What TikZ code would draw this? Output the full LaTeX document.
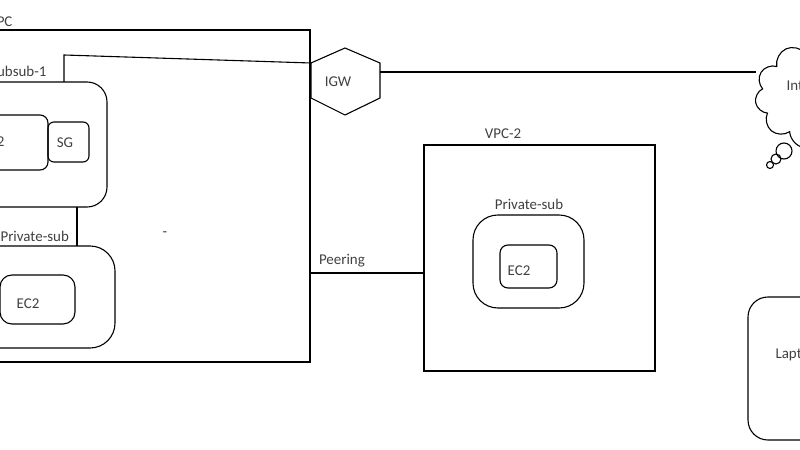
\documentclass[tikz,border=0pt]{standalone}
\usepackage{fontspec}
\setmainfont{Carlito}
\usetikzlibrary{shapes.symbols}

\begin{document}
\begin{tikzpicture}[x=1bp,y=-1bp,line width=1.1pt,
	lbl/.style={font=\fontsize{15}{17}\selectfont,text=black!75,inner sep=0pt},
	box/.style={draw,rounded corners=#1},
	box/.default=0pt]
		\useasboundingbox (0,0) rectangle (800,450);
		\clip (0,0) rectangle (800,450);
		
		%VPC
		\draw (-60,30) rectangle (310,362);
		\node[lbl,anchor=east] (vpc) at (13,22) {VPC};
		
		%public subnet
		\draw[box=20pt] (-60,82) rectangle (107,207);
		\node[lbl,anchor=east] (pub) at (47,71) {Pubsub-1};
		\draw[box=8pt] (-40,115) rectangle (48,170);
		\node[lbl,anchor=east] (ec2a) at (5,142) {EC2};
		\draw[box=6pt] (48,122) rectangle (89,162);
		\node[lbl] (sg) at (65,143) {SG};
		
		%private subnet
		\draw[box=25pt] (-60,246) rectangle (115,348);
		\node[lbl,anchor=west] (priv) at (0,236) {Private-sub};
		\draw[box=12pt] (0,275) rectangle (75,324);
		\node[lbl] (ec2b) at (28,304) {EC2};
		\draw (77,207) -- (77,246);
		\node[lbl] (dot) at (165,234) {-};
		
		%IGW
		\coordinate (g1) at (311,63);
		\coordinate (g2) at (380,72);
		\draw (g1) -- (345,48) -- (380,63) -- (380,98) -- (345,115) -- (311,98) -- cycle;
		\node[lbl] (igw) at (338,82) {IGW};
		\draw (64,82) -- (64,55) -- (g1);
		
		%VPC-2
		\draw (424,145) rectangle (655,371);
		\node[lbl] (vpc2) at (503,134) {VPC-2};
		\draw[box=25pt] (473,215) rectangle (584,308);
		\node[lbl] (priv2) at (529,204) {Private-sub};
		\draw[box=8pt] (500,245) rectangle (557,288);
		\node[lbl] (ec2c) at (519,271) {EC2};
		
		%peering
		\coordinate (p1) at (310,273);
		\coordinate (p2) at (424,273);
		\draw (p1) -- (p2) node[lbl,pos=0.28,above=5pt] (peer) {Peering};
		
		%internet
		\node[cloud,draw,cloud puffs=11,aspect=1.1,minimum width=135,minimum height=110,anchor=west] (net) at (756,95) {};
		\node[lbl,anchor=west] (nettxt) at (786,86) {Internet};
		\draw (784,151) circle (8);
		\draw (776,159) circle (5);
		\draw (770,165) circle (3.5);
		\draw (g2) -- (net.west |- g2);
		
		%laptop
		\draw[box=20pt] (748,297) rectangle (880,440);
		\node[lbl,anchor=west] (lap) at (775,355) {Laptop};
\end{tikzpicture}
\end{document}
